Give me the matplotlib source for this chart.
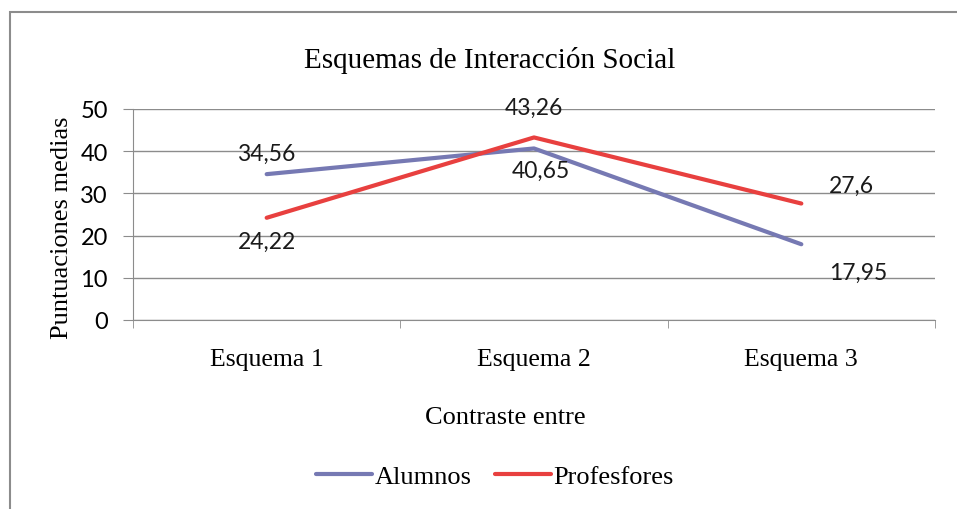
import matplotlib.pyplot as plt
from matplotlib.patches import Rectangle

categorias = ['Esquema 1', 'Esquema 2', 'Esquema 3']
alumnos = [34.56, 40.65, 17.95]
profesores = [24.22, 43.26, 27.6]
etiquetas_alumnos = ['34,56', '40,65', '17,95']
etiquetas_profesores = ['24,22', '43,26', '27,6']

SERIF = 'Liberation Serif'
SANS = 'Lato'
GRIS = '#8c8c8c'

fig = plt.figure(figsize=(9.57, 5.10), dpi=100)
ax = fig.add_axes([133 / 957, 1 - 321 / 510, (935 - 133) / 957, (321 - 110) / 510])

xx = range(len(categorias))
ax.plot(xx, alumnos, color='#7679b3', lw=3.0, solid_capstyle='round', label='Alumnos', zorder=3)
ax.plot(xx, profesores, color='#e8403f', lw=3.0, solid_capstyle='round', label='Profesfores', zorder=4)

# etiquetas de datos (desplazamientos en puntos)
off_al = [(0, 15), (5, -16), (41, -20)]
off_pr = [(0, -17), (0, 22), (36, 13)]
for i in xx:
    ax.annotate(etiquetas_alumnos[i], (i, alumnos[i]), xytext=off_al[i], textcoords='offset points',
                ha='center', va='center', fontsize=16.5, family=SANS, color='#1a1a1a')
    ax.annotate(etiquetas_profesores[i], (i, profesores[i]), xytext=off_pr[i], textcoords='offset points',
                ha='center', va='center', fontsize=16.5, family=SANS, color='#1a1a1a')

ax.set_xlim(-0.5, 2.5)
ax.set_ylim(0, 50)
ax.set_yticks(range(0, 51, 10))
ax.yaxis.grid(True, color=GRIS, lw=1.0)
ax.set_axisbelow(True)
for s in ['top', 'right']:
    ax.spines[s].set_visible(False)
for s in ['left', 'bottom']:
    ax.spines[s].set_color(GRIS)
ax.set_xticks(list(xx))
ax.set_xticklabels(categorias, fontsize=18.5, family=SERIF)
ax.set_xticks([-0.5, 0.5, 1.5, 2.5], minor=True)
ax.tick_params(axis='x', which='major', length=0, pad=20)
ax.tick_params(axis='x', which='minor', length=6, color=GRIS, direction='out')
ax.tick_params(axis='y', length=7, color=GRIS, pad=11, labelsize=17)
for t in ax.get_yticklabels():
    t.set_family(SANS)

fig.text(490 / 957, 1 - 60 / 510, 'Esquemas de Interacción Social', ha='center', va='center',
         fontsize=21, family=SERIF)
fig.text(62 / 957, 1 - 228 / 510, 'Puntuaciones medias', ha='center', va='center',
         rotation=90, fontsize=19, family=SERIF)
fig.text(505 / 957, 1 - 418 / 510, 'Contraste entre', ha='center', va='center',
         fontsize=19, family=SERIF)

fig.legend(loc='center', bbox_to_anchor=(495 / 957, 1 - 477 / 510), ncol=2, frameon=False,
           prop={'family': SERIF, 'size': 19}, handlelength=2.1, handletextpad=0.1, columnspacing=0.9)

fig.patches.append(Rectangle((10 / 957, -0.1), 1.2, 1 - 13 / 510 + 0.1, transform=fig.transFigure,
                             fill=False, edgecolor='#8c8c8c', lw=1.5))

fig.savefig('out.png', dpi=100)
